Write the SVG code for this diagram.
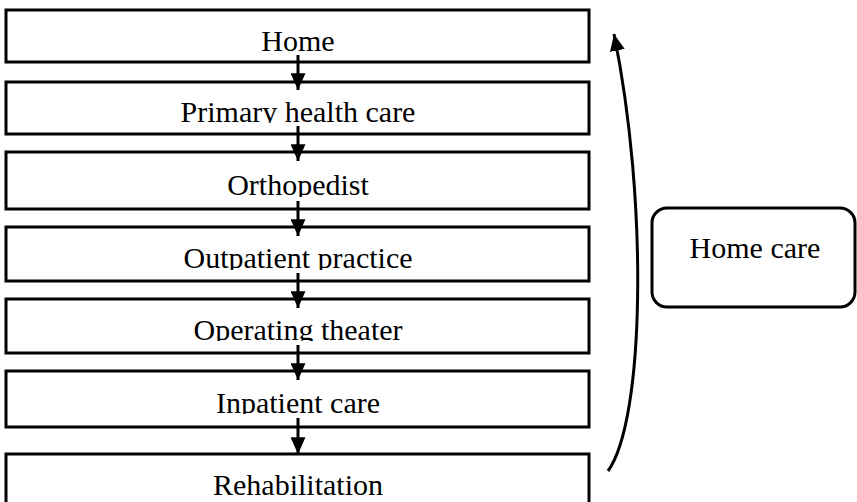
<svg xmlns="http://www.w3.org/2000/svg" width="857" height="502" viewBox="0 0 857 502">
<style>
.box{fill:#fff;stroke:#000;stroke-width:3}
.lbl{font-family:"Liberation Serif","Times New Roman",serif;font-size:30px;fill:#000;text-anchor:middle}
.conn{stroke:#000;stroke-width:3;fill:none}
</style>
<defs>
<marker id="ah" markerWidth="6" markerHeight="5" refX="5.6" refY="2.5" orient="auto" markerUnits="strokeWidth"><path d="M0,0 L5.6,2.5 L0,5 Z" fill="#000"/></marker>
<clipPath id="c1"><rect x="6" y="10" width="583" height="42"/></clipPath>
<clipPath id="c2"><rect x="6" y="82" width="583" height="41"/></clipPath>
<clipPath id="c3"><rect x="6" y="152" width="583" height="45"/></clipPath>
<clipPath id="c4"><rect x="6" y="227" width="583" height="43"/></clipPath>
<clipPath id="c5"><rect x="6" y="299" width="583" height="42"/></clipPath>
<clipPath id="c6"><rect x="6" y="371" width="583" height="43"/></clipPath>
</defs>
<g id="n1"><rect class="box" x="6" y="10" width="583" height="52"/><text class="lbl" x="298" y="51" clip-path="url(#c1)">Home</text></g>
<g id="n2"><rect class="box" x="6" y="82" width="583" height="52"/><text class="lbl" x="298" y="122" clip-path="url(#c2)">Primary health care</text></g>
<g id="n3"><rect class="box" x="6" y="152" width="583" height="57"/><text class="lbl" x="298" y="195" clip-path="url(#c3)">Orthopedist</text></g>
<g id="n4"><rect class="box" x="6" y="227" width="583" height="54"/><text class="lbl" x="298" y="268" clip-path="url(#c4)">Outpatient practice</text></g>
<g id="n5"><rect class="box" x="6" y="299" width="583" height="54"/><text class="lbl" x="298" y="340" clip-path="url(#c5)">Operating theater</text></g>
<g id="n6"><rect class="box" x="6" y="371" width="583" height="56"/><text class="lbl" x="298" y="413" clip-path="url(#c6)">Inpatient care</text></g>
<g id="n7"><rect class="box" x="6" y="454" width="583" height="60"/><text class="lbl" x="298" y="495">Rehabilitation</text></g>
<g id="n8"><rect class="box" x="652" y="208" width="203" height="99" rx="15"/><text class="lbl" x="755" y="258">Home care</text></g>
<g id="connectors">
<path class="conn" d="M298,55 V90" marker-end="url(#ah)"/>
<path class="conn" d="M298,126 V161" marker-end="url(#ah)"/>
<path class="conn" d="M298,201 V236" marker-end="url(#ah)"/>
<path class="conn" d="M298,273 V308" marker-end="url(#ah)"/>
<path class="conn" d="M298,345 V380" marker-end="url(#ah)"/>
<path class="conn" d="M298,418 V454" marker-end="url(#ah)"/>
<path class="conn" d="M608,471 C645,420 648,200 614,34" marker-end="url(#ah)"/>
</g>
</svg>
